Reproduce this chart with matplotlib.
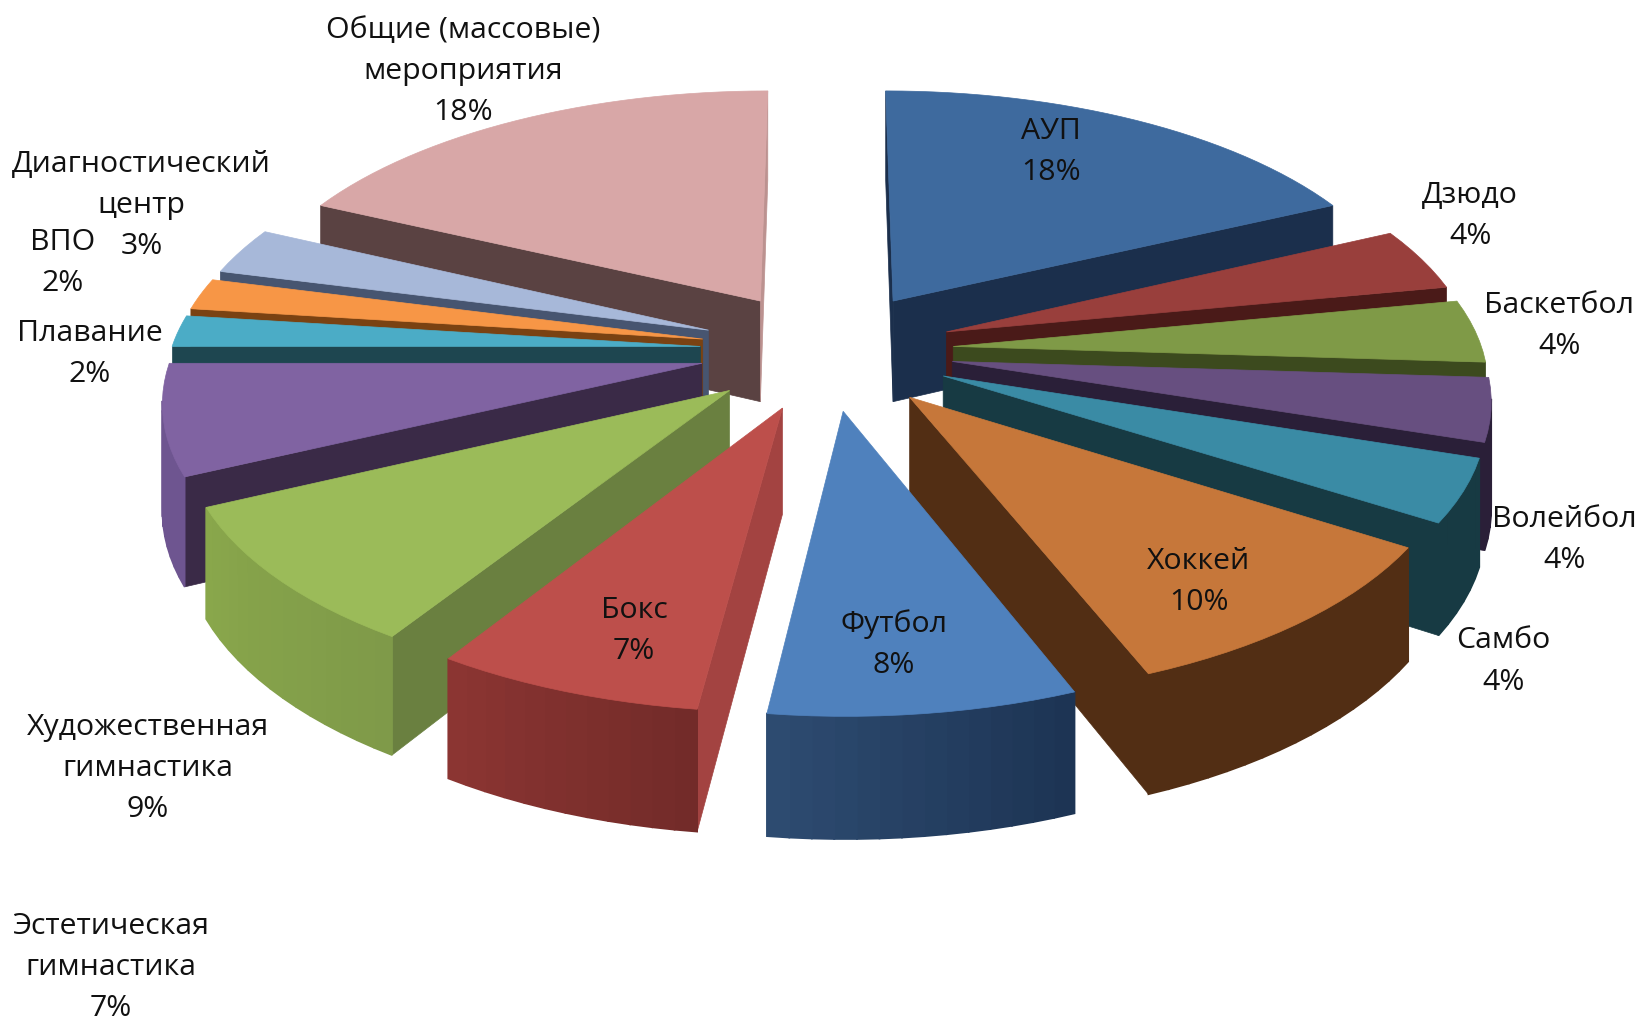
import numpy as np
import matplotlib
matplotlib.use('Agg')
import matplotlib.pyplot as plt
from matplotlib.patches import Polygon
from matplotlib.colors import to_rgb

plt.rcParams['font.family'] = ['Open Sans', 'DejaVu Sans']

# data
names = ['АУП', 'Дзюдо', 'Баскетбол', 'Волейбол', 'Самбо', 'Хоккей', 'Футбол', 'Бокс',
         'Художественная\nгимнастика', 'Эстетическая\nгимнастика', 'Плавание', 'ВПО',
         'Диагностический\nцентр', 'Общие (массовые)\nмероприятия']
shares = [18, 4, 4, 4, 4, 10, 8, 7, 9, 7, 2, 2, 3, 18]

# colours: top, radial face at slice start / end, outer face start / end
top_cols = ['#3E6A9E', '#993F3C', '#7F9A47', '#674F80', '#3A8BA5', '#C6773A', '#4F81BD',
            '#BD4F4B', '#9BBB59', '#8063A2', '#4BACC6', '#F79646', '#A7B8D9', '#D8A7A7']
rad_a = ['#1B2F4C', '#4A1A18', '#3C4A1E', '#2A1F38', '#173A43', '#522E14', '#1F3654',
         '#A34341', '#6A8040', '#3A2A47', '#1E4650', '#7A4212', '#475570', '#5A4242']
rad_b = ['#1B2F4C', '#4A1A18', '#3C4A1E', '#2A1F38', '#173A43', '#522E14', '#1F3654',
         '#A34341', '#6A8040', '#3A2A47', '#1E4650', '#7A4212', '#475570', '#BC9290']
out_a = ['#1B2F4C', '#4A1A18', '#3C4A1E', '#2A1F38', '#173A43', '#522E14', '#1D3454',
         '#732B29', '#7F9A49', '#6E5590', '#1E4650', '#7A4212', '#475570', '#5A4242']
out_b = ['#1B2F4C', '#4A1A18', '#3C4A1E', '#2A1F38', '#173A43', '#522E14', '#2D4B70',
         '#8B3532', '#89A74B', '#6E5590', '#1E4650', '#7A4212', '#475570', '#5A4242']

# label centres in picture units
label_pos = [(1003, 145), (1403, 206), (1488, 311), (1493, 515), (1435, 631), (1144, 555),
             (853, 615), (605, 602), (141, 733), (106, 923), (86, 338), (60, 251),
             (135, 196), (442, 68)]

# pie geometry
cx, cy = 789, 335
radius = 505
tilt = 0.47
thick = 0.195
explode = 0.24
persp = 7.8


def project(r, ang, off, z):
    # off = slice mid angle for the explode shift
    x = r * np.cos(ang) + explode * np.cos(off)
    y = r * np.sin(ang) + explode * np.sin(off)
    k = persp / (persp + y)
    return cx + radius * x * k, cy - radius * (y * tilt + z) * k


def front_facing(pts):
    # screen y points down, so the sign is flipped
    p = np.array(pts)
    x, y = p[:, 0], p[:, 1]
    return np.sum(x * np.roll(y, -1) - np.roll(x, -1) * y) < 0


fig = plt.figure(figsize=(16.43, 10.2), dpi=100)
ax = fig.add_axes((0, 0, 1, 1))
ax.set_xlim(0, 1568)
ax.set_ylim(973, 0)
ax.axis('off')

fracs = np.array(shares) / sum(shares) * 2 * np.pi
starts = np.pi / 2 - np.concatenate(([0], np.cumsum(fracs)[:-1]))
mids = starts - fracs / 2
order = np.argsort(-np.sin(mids))

for i in order:
    a0, a1, mid = starts[i], starts[i] - fracs[i], mids[i]
    angs = np.linspace(a0, a1, max(int(fracs[i] * 30), 6))
    rim_top = [project(1, a, mid, 0) for a in angs]
    rim_bot = [project(1, a, mid, -thick) for a in angs]
    apex_top = project(0, mid, mid, 0)
    apex_bot = project(0, mid, mid, -thick)

    # radial faces, both sides
    faces = [([apex_top, rim_top[0], rim_bot[0], apex_bot], rad_a[i]),
             ([apex_bot, rim_bot[-1], rim_top[-1], apex_top], rad_b[i])]
    for q, col in faces:
        if front_facing(q):
            ax.add_patch(Polygon(q, fc=col, ec=col, lw=0.5))

    # outer face with a gradient
    ca, cb = np.array(to_rgb(out_a[i])), np.array(to_rgb(out_b[i]))
    n = len(angs) - 1
    for j in range(n):
        q = [rim_top[j], rim_top[j + 1], rim_bot[j + 1], rim_bot[j]]
        if front_facing(q):
            c = ca + (cb - ca) * j / max(n - 1, 1)
            ax.add_patch(Polygon(q, fc=c, ec=c, lw=1.2))

    ax.add_patch(Polygon([apex_top] + rim_top, fc=top_cols[i], ec=top_cols[i], lw=0.5))

for name, v, (tx, ty) in zip(names, shares, label_pos):
    ax.text(tx, ty, f'{name}\n{v}%', ha='center', va='center', fontsize=21.8,
            color='#111111', linespacing=1.55)

fig.savefig('out.png', dpi=100)
